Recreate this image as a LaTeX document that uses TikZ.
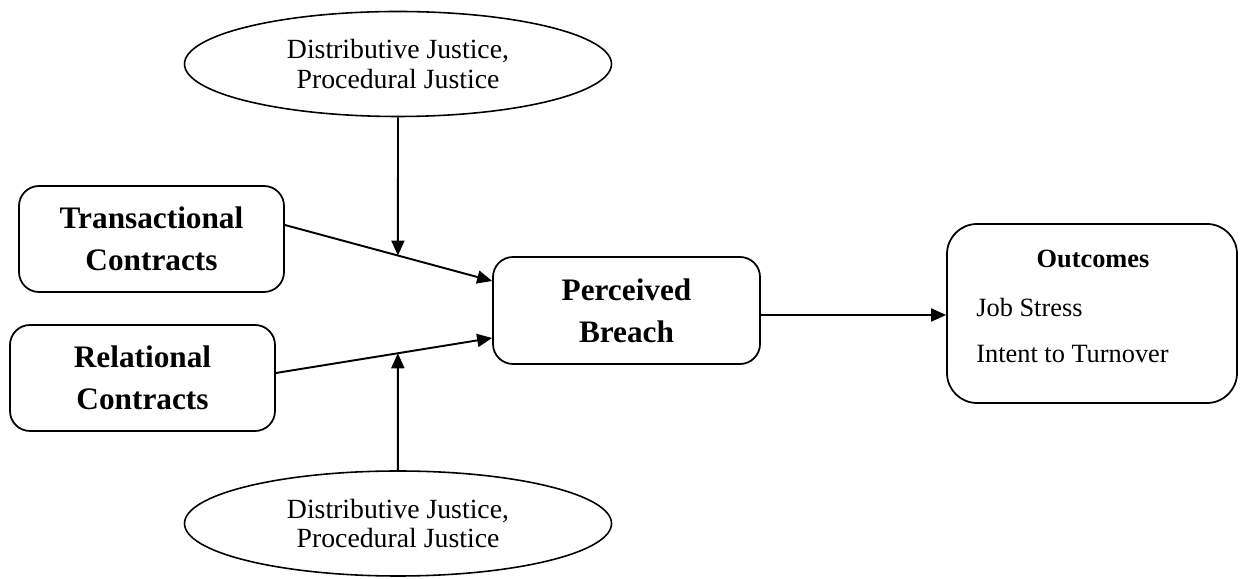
\documentclass[tikz,border=0pt]{standalone}
\usepackage{fontspec}
\setmainfont{Liberation Serif}
\usetikzlibrary{arrows.meta, shapes.geometric}
\tikzset{
    blk/.style={draw, line width=1pt, rounded corners=0.4cm, minimum width=5.3cm, minimum height=2.12cm, align=center, font=\fontsize{17.8}{24}\selectfont\bfseries},
    just/.style={draw, ellipse, line width=0.9pt, minimum width=8.54cm, minimum height=2.1cm, inner sep=0pt, align=center, font=\fontsize{15.8}{16.8}\selectfont},
    txt/.style={font=\fontsize{15}{18}\selectfont, inner sep=0pt},
    bd/.style={-{Triangle[length=0.3cm, width=0.26cm]}, line width=1.1pt}
}

\begin{document}
\begin{tikzpicture}
    \useasboundingbox (0,0) rectangle (24.8,11.58);
    \node[just] (te) at (7.96,10.3) {Distributive Justice,\\Procedural Justice};
    \node[blk] (tc) at (3.03,6.8) {Transactional\\Contracts};
    \node[blk] (rc) at (2.85,4.02) {Relational\\Contracts};
    \node[blk, minimum width=5.34cm, minimum height=2.14cm] (pb) at (12.53,5.37) {Perceived\\Breach};
    \node[just] (be) at (7.96,1.11) {Distributive Justice,\\Procedural Justice};
    \node[draw, line width=1pt, rounded corners=0.6cm, minimum width=5.8cm, minimum height=3.58cm] (oc) at (21.84,5.31) {};
    \node[txt, font=\fontsize{15}{18}\selectfont\bfseries, anchor=base] (oh) at (21.86,6.22) {Outcomes};
    \node[txt, anchor=base west] (o1) at (19.52,5.24) {Job Stress};
    \node[txt, anchor=base west] (o2) at (19.52,4.32) {Intent to Turnover};

    \draw[bd] ([yshift=0.28cm]tc.east) -- ([yshift=0.59cm]pb.west) coordinate[pos=0.5455] (m1);
    \draw[bd] ([yshift=0.1cm]rc.east) -- ([yshift=-0.55cm]pb.west) coordinate[pos=0.564] (m2);
    \draw[bd] (te) -- (m1);
    \draw[bd] (be) -- (m2);
    \draw[bd] ([yshift=-0.09cm]pb.east) -- ([yshift=-0.09cm]pb.east -| oc.west);
\end{tikzpicture}
\end{document}
